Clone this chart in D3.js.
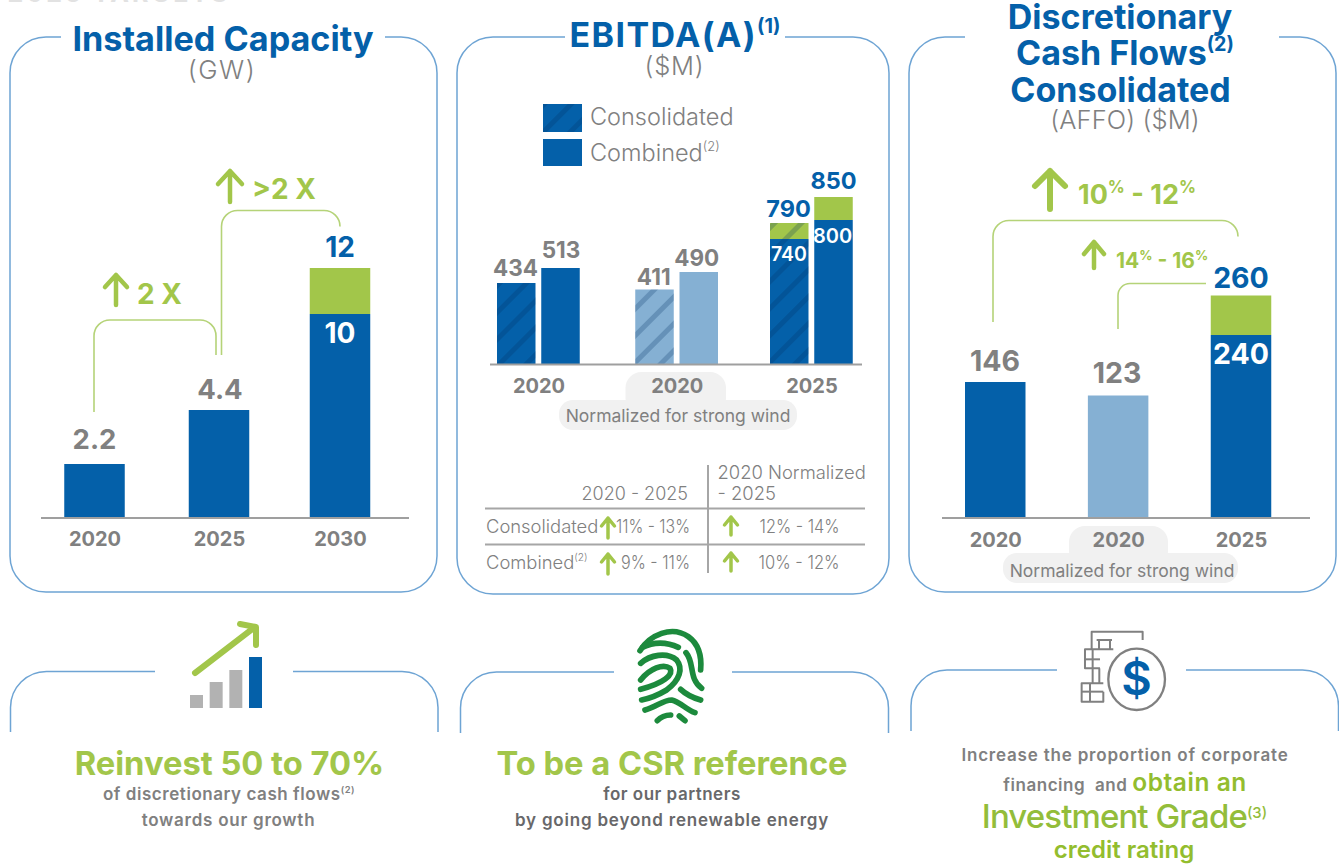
<!DOCTYPE html>
<html><head><meta charset="utf-8">
<script src="https://cdn.jsdelivr.net/npm/d3@7"></script>
<style>html,body{margin:0;padding:0;background:#fff}svg{display:block}text{font-family:Inter,"Noto Sans",sans-serif}</style>
</head><body><div id="c"></div>
<script>
// ---------- data ----------
const capacityYears = ["2020","2025","2030"];
const capacityBase  = [2.2,4.4,10];
const capacityTotal = [2.2,4.4,12];
const ebitdaYears = ["2020","2020 norm.","2025"];
const ebitdaConsolidatedBase  = [434,411,740];
const ebitdaConsolidatedTotal = [434,411,790];
const ebitdaCombinedBase  = [513,490,800];
const ebitdaCombinedTotal = [513,490,850];
const affoYears = ["2020","2020 norm.","2025"];
const affoBase  = [146,123,240];
const affoTotal = [146,123,260];
const yearLabels2 = ["2020","2020","2025"];
const tableRows = ["Consolidated","Combined"];
const tablePeriod = ["11% - 13%","9% - 11%"];
const tableNormalized = ["12% - 14%","10% - 12%"];
const iconBars = [1,2,3,4];

const BLUE="#0460a9",LIGHT="#85b0d3",GREEN="#a2c64a",GREY="#808080",FRAME="#6ea4d4",PILL="#f1f1f1",LINE="#a6a6a6";
const W=1339,H=865;
const svg=d3.select("#c").append("svg").attr("width",W).attr("height",H).attr("viewBox",`0 0 ${W} ${H}`);
const defs=svg.append("defs");
const pat=defs.append("pattern").attr("id","hatch").attr("patternUnits","userSpaceOnUse").attr("width",19).attr("height",19).attr("patternTransform","rotate(45)");
pat.append("rect").attr("x",0).attr("y",0).attr("width",5).attr("height",19).attr("fill","rgba(0,45,95,.24)");
const rough=defs.append("filter").attr("id","rough").attr("x","-10%").attr("y","-10%").attr("width","120%").attr("height","120%");
rough.append("feTurbulence").attr("type","fractalNoise").attr("baseFrequency",0.45).attr("numOctaves",2).attr("seed",3).attr("result","n");
rough.append("feDisplacementMap").attr("in","SourceGraphic").attr("in2","n").attr("scale",3.5);

function txt(parent,x,y,segs,o={}){
  const t=parent.append("text").attr("x",x).attr("y",y).attr("text-anchor",o.anchor||"middle")
    .attr("font-size",o.size||18).attr("font-weight",o.weight||400).attr("fill",o.fill||GREY);
  if(o.ls!=null)t.attr("letter-spacing",o.ls);
  if(o.len)t.attr("textLength",o.len).attr("lengthAdjust","spacingAndGlyphs");
  (Array.isArray(segs)?segs:[segs]).forEach(s=>{
    if(typeof s==="string")s={t:s};
    const sp=t.append("tspan").text(s.t).attr("xml:space","preserve");
    if(s.sup){sp.attr("font-size",(o.size||18)*(s.k||.55)).attr("baseline-shift",(o.size||18)*(s.up||.42));}
    if(s.size)sp.attr("font-size",s.size);
    if(s.fill)sp.attr("fill",s.fill);
    if(s.weight)sp.attr("font-weight",s.weight);
    if(s.ls!=null)sp.attr("letter-spacing",s.ls);
  });
  return t;
}
function frame(g,x0,x1,top,bottom,gapL,gapR,r,closed){
  const p=d3.path();
  p.moveTo(gapR,top);p.lineTo(x1-r,top);p.arcTo(x1,top,x1,top+r,r);
  if(closed){p.lineTo(x1,bottom-r);p.arcTo(x1,bottom,x1-r,bottom,r);p.lineTo(x0+r,bottom);p.arcTo(x0,bottom,x0,bottom-r,r);}
  else{p.lineTo(x1,bottom);p.moveTo(x0,bottom);}
  p.lineTo(x0,top+r);p.arcTo(x0,top,x0+r,top,r);p.lineTo(gapL,top);
  g.append("path").attr("d",p.toString()).attr("fill","none").attr("stroke",FRAME).attr("stroke-width",1.5);
}
function bracket(g,xa,ya,yTop,xb,yb,r){
  const p=d3.path();p.moveTo(xa,ya);p.lineTo(xa,yTop+r);p.arcTo(xa,yTop,xa+r,yTop,r);
  if(yb>yTop+0.5){p.lineTo(xb-r,yTop);p.arcTo(xb,yTop,xb,yTop+r,r);p.lineTo(xb,yb);}else p.lineTo(xb,yTop);
  g.append("path").attr("d",p.toString()).attr("fill","none").attr("stroke","#b5d378").attr("stroke-width",1.6);
}
function arrow(g,x,y0,y1,w,hw,hh){
  const p=d3.path();p.moveTo(x,y1);p.lineTo(x,y0);p.moveTo(x-hw,y0+hh);p.lineTo(x,y0);p.lineTo(x+hw,y0+hh);
  g.append("path").attr("d",p.toString()).attr("fill","none").attr("stroke",GREEN).attr("stroke-width",w).attr("stroke-linecap","round").attr("stroke-linejoin","round");
}
function baseline(g,x0,x1,y){g.append("line").attr("x1",x0).attr("x2",x1).attr("y1",y).attr("y2",y).attr("stroke","#9f9f9f").attr("stroke-width",2);}
function yearAxis(g,scale,y,labels,size){
  const ax=d3.axisBottom(scale).tickSize(0).tickPadding(0).tickFormat((d,i)=>labels[i]);
  const a=g.append("g").attr("transform",`translate(0,${y})`).call(ax);
  a.select(".domain").remove();
  a.selectAll("text").attr("font-family",'Inter,"Noto Sans",sans-serif').attr("font-size",size).attr("font-weight",700).attr("fill",GREY).attr("dy",0).attr("y",0);
}
function pill(g,tabX0,tabX1,tabTop,x0,x1,y0,y1,label,tx,ty){
  g.append("rect").attr("x",tabX0).attr("y",tabTop).attr("width",tabX1-tabX0).attr("height",y0-tabTop+14).attr("rx",16).attr("fill",PILL);
  g.append("rect").attr("x",x0).attr("y",y0).attr("width",x1-x0).attr("height",y1-y0).attr("rx",14).attr("fill",PILL);
  txt(g,tx,ty,label,{size:17.5,fill:GREY,weight:400});
}
function stackBars(g,x,y,width,dx,base,total,fillAt,hatched,yb){
  const idx=base.map((d,i)=>i);
  g.selectAll(null).data(idx).join("rect").attr("x",i=>x(x.domain()[i])+dx-width/2).attr("width",width)
    .attr("y",i=>y(base[i])).attr("height",i=>yb-y(base[i])).attr("fill",fillAt);
  g.selectAll(null).data(idx.filter(i=>total[i]>base[i])).join("rect").attr("x",i=>x(x.domain()[i])+dx-width/2).attr("width",width)
    .attr("y",i=>y(total[i])).attr("height",i=>y(base[i])-y(total[i])).attr("fill",GREEN);
  if(hatched)g.selectAll(null).data(idx).join("rect").attr("x",i=>x(x.domain()[i])+dx-width/2).attr("width",width)
    .attr("y",i=>y(total[i])).attr("height",i=>yb-y(total[i])).attr("fill","url(#hatch)");
}

// top cropped heading
txt(svg,119,2,"2025 TARGETS",{size:25,weight:700,fill:"#e2e2e2",ls:3});

// ---------- panel 1 ----------
const p1=svg.append("g");
frame(p1,10,437,37,592,61,385,36,true);
txt(p1,223,51,"Installed Capacity",{size:34.2,weight:700,fill:BLUE});
txt(p1,222,79,"(GW)",{size:26,weight:300,fill:GREY,ls:1.5});
const y1Base=517.5;
const y1=d3.scaleLinear().domain([0,2.2,4.4,10,12]).range([y1Base,464,410,314,268]);
const x1=d3.scaleOrdinal(capacityYears,[94.5,219,340]);
stackBars(p1,x1,y1,60.5,0,capacityBase,capacityTotal,BLUE,false,y1Base);
baseline(p1,41,409,518);
yearAxis(p1,x1,546,capacityYears,20);
txt(p1,x1("2020"),449,"2.2",{size:27.5,weight:700});
txt(p1,x1("2025")+1,399,"4.4",{size:27.5,weight:700});
txt(p1,x1("2030"),257,"12",{size:28,weight:700,fill:BLUE});
txt(p1,x1("2030"),343,"10",{size:28,weight:700,fill:"#fff"});
bracket(p1,94,412,320,216,355,16);
bracket(p1,221.5,355,210.5,340,226,16);
arrow(p1,116,275,305,4.5,11,12);
txt(p1,137,304,"2 X",{size:28,weight:700,fill:GREEN,anchor:"start"});
arrow(p1,230,171,202,4.5,12,13);
txt(p1,252,199,">2 X",{size:28,weight:700,fill:GREEN,anchor:"start"});

// ---------- panel 2 ----------
const p2=svg.append("g");
frame(p2,457,889,37,594,565,785,36,true);
txt(p2,675,47,[{t:"EBITDA(A)",ls:1.4},{t:"(1)",sup:1,k:.58}],{size:34,weight:700,fill:BLUE});
txt(p2,674.5,75,"($M)",{size:25.5,weight:300,ls:.8});
p2.append("rect").attr("x",543).attr("y",104).attr("width",39).attr("height",28).attr("fill",BLUE);
p2.append("rect").attr("x",543).attr("y",104).attr("width",39).attr("height",28).attr("fill","url(#hatch)");
p2.append("rect").attr("x",543).attr("y",139).attr("width",39).attr("height",27).attr("fill",BLUE);
txt(p2,590,125,"Consolidated",{size:23.5,weight:300,anchor:"start"});
txt(p2,590,161,["Combined",{t:"(2)",sup:1}],{size:23.5,weight:300,anchor:"start"});
const y2Base=364;
const y2=d3.scaleLinear().domain([0,411,434,490,513,740,790,800,850]).range([y2Base,289.5,283,272,268,239,223,220,197]);
const x2=d3.scaleOrdinal(ebitdaYears,[538.5,676.75,811.5]);
const fillByYear=(i)=>i===1?LIGHT:BLUE;
stackBars(p2,x2,y2,38.5,-22.25,ebitdaConsolidatedBase,ebitdaConsolidatedTotal,fillByYear,true,y2Base);
stackBars(p2,x2,y2,38.5,22,ebitdaCombinedBase,ebitdaCombinedTotal,fillByYear,false,y2Base);
baseline(p2,490,862,364.5);
pill(p2,625.5,726,372,559,797,400,430,"Normalized for strong wind",678,422);
yearAxis(p2,x2,393,yearLabels2,20);
[[434,0,276,-23],[411,1,285,-23],[513,0,258,22.5],[490,1,266,20]].forEach(([v,i,yy,dx])=>txt(p2,x2(ebitdaYears[i])+dx,yy,String(v),{size:22.5,weight:700}));
txt(p2,788.5,216.5,"790",{size:23.5,weight:700,fill:BLUE});
txt(p2,833.5,189,"850",{size:23.5,weight:700,fill:BLUE});
txt(p2,789,261,"740",{size:19.5,weight:600,fill:"#fff"});
txt(p2,832.5,243,"800",{size:20,weight:600,fill:"#fff"});
// table
[[485,865,508.5,508.5],[485,865,544.5,544.5],[708,708,465,573]].forEach(([a,b,c,d])=>p2.append("line").attr("x1",a).attr("x2",b).attr("y1",c).attr("y2",d).attr("stroke",LINE).attr("stroke-width",2));
txt(p2,688,500,"2020 - 2025",{size:18,weight:300,anchor:"end"});
txt(p2,717.5,479,"2020 Normalized",{size:18.4,weight:300,anchor:"start"});
txt(p2,717.5,500,"- 2025",{size:18.4,weight:300,anchor:"start"});
txt(p2,486,533,tableRows[0],{size:18.4,weight:300,anchor:"start"});
txt(p2,486,569,[tableRows[1],{t:"(2)",sup:1}],{size:18.4,weight:300,anchor:"start"});
const periodLen=[74,69], normLen=[80,81];
tableRows.forEach((r,i)=>{
  const yy=[533,569][i];
  txt(p2,690,yy,tablePeriod[i],{size:18,weight:300,anchor:"end",len:periodLen[i]});
  txt(p2,839.5,yy,tableNormalized[i],{size:18,weight:300,anchor:"end",len:normLen[i]});
  arrow(p2,608,yy-15,yy+5,3.5,6.5,8);
  arrow(p2,731,yy-16,yy+2,3.5,6.5,8);
});

// ---------- panel 3 ----------
const p3=svg.append("g");
frame(p3,909,1336,37,592,965,1279,36,true);
txt(p3,1120,29,"Discretionary",{size:34,weight:700,fill:BLUE});
txt(p3,1125,65,["Cash Flows",{t:"(2)",sup:1,k:.58}],{size:34,weight:700,fill:BLUE});
txt(p3,1120.5,102,"Consolidated",{size:34,weight:700,fill:BLUE});
txt(p3,1125,129,"(AFFO) ($M)",{size:25.5,weight:300,ls:.1});
const y3Base=517.5;
const y3=d3.scaleLinear().domain([0,123,146,240,260]).range([y3Base,395.5,382,335,295.5]);
const x3=d3.scalePoint().domain(affoYears).range([995.25,1241]);
stackBars(p3,x3,y3,60.5,0,affoBase,affoTotal,i=>i===1?LIGHT:BLUE,false,y3Base);
baseline(p3,942,1310,518);
pill(p3,1069,1168,526,1003,1238,553,583,"Normalized for strong wind",1122,577);
yearAxis(p3,x3,547,yearLabels2,20);
txt(p3,995,371,"146",{size:28.5,weight:700});
txt(p3,1117,383,"123",{size:28.5,weight:700});
txt(p3,1241,288,"260",{size:28.5,weight:700,fill:BLUE});
txt(p3,1241,364,"240",{size:28.5,weight:700,fill:"#fff"});
bracket(p3,993,322,220.5,1238,236,16);
bracket(p3,1118,329,283.5,1206,283.5,12);
arrow(p3,1050,171,209,6,15,15);
txt(p3,1078,204,["10",{t:"%",sup:1,k:.62,up:.4}," - 12",{t:"%",sup:1,k:.62,up:.4}],{size:27,weight:700,fill:GREEN,anchor:"start"});
arrow(p3,1094,242,268,4.5,10,12);
txt(p3,1116,268,["14",{t:"%",sup:1,k:.62,up:.4}," - 16",{t:"%",sup:1,k:.62,up:.4}],{size:21,weight:700,fill:GREEN,anchor:"start"});

// ---------- lower panels ----------
const b=svg.append("g");
frame(b,10.5,438,671.5,732,155,293,36,false);
frame(b,460.5,888.5,672,733,614,732,36,false);
frame(b,911,1338.5,670,731,1057,1186,36,false);

txt(b,229.5,775,"Reinvest 50 to 70%",{size:32.7,weight:700,fill:GREEN});
txt(b,229,800,["of discretionary cash flows",{t:"(2)",sup:1}],{size:17,weight:600,ls:.55});
txt(b,228.5,826,"towards our growth",{size:17,weight:600,ls:.75});
txt(b,672,775,"To be a CSR reference",{size:32.7,weight:700,fill:GREEN});
txt(b,672,800,"for our partners",{size:17,weight:600,fill:"#68686a",ls:.5});
txt(b,672,826,"by going beyond renewable energy",{size:17,weight:600,fill:"#68686a",ls:.8});
txt(b,1125,761,"Increase the proportion of corporate",{size:17,weight:600,ls:.8});
txt(b,1125,791,["financing  and ",{t:"obtain an",size:24.5,weight:600,fill:"#93bd2e"}],{size:17,weight:600,ls:.55});
txt(b,1124.5,828,[{t:"Investment Grade",ls:-.9},{t:"(3)",sup:1,k:.45,up:.3}],{size:33,weight:500,fill:"#93bd3a"});
txt(b,1124,858,"credit rating",{size:24,weight:600,fill:"#93bd2e"});

// icon: growth
const iconX=d3.scaleBand().domain(iconBars).range([190,262]).paddingInner(.34).paddingOuter(0);
const iconH=d3.scaleLinear().domain([0,1,2,3,4]).range([708,695,682,670,657]);
b.selectAll(null).data(iconBars).join("rect").attr("x",d=>iconX(d)).attr("width",iconX.bandwidth()).attr("y",d=>iconH(d)).attr("height",d=>708-iconH(d)).attr("fill",d=>d===4?BLUE:"#b2b2b2");
b.append("path").attr("d","M195,673 L255,627 M240,624 L256,627 L256,645").attr("fill","none").attr("stroke",GREEN).attr("stroke-width",6).attr("stroke-linecap","round").attr("stroke-linejoin","round");

// icon: fingerprint
const fp=b.append("g").attr("transform","translate(450,600) scale(.3333)").attr("filter","url(#rough)").attr("fill","none").attr("stroke","#1f8a3c").attr("stroke-width",17).attr("stroke-linecap","round");
["M570,152 C600,105 665,75 715,110 C750,135 755,175 752,210",
 "M572,190 C600,165 650,155 680,180 C700,205 690,240 650,270 C625,285 600,295 575,300",
 "M572,240 C600,205 640,190 660,205 C672,225 640,250 572,268",
 "M578,142 C610,125 650,125 685,142",
 "M708,158 C735,190 715,235 755,265",
 "M692,268 C710,285 735,295 752,300",
 "M585,330 C620,320 640,300 665,300 C690,305 710,330 735,338",
 "M622,362 C635,348 650,345 662,345",
 "M688,348 L705,362"].forEach(d=>fp.append("path").attr("d",d));

// icon: finance
const fi=b.append("g").attr("transform","translate(900,600) scale(.3333)").attr("fill","none").attr("stroke",GREY).attr("stroke-width",6).attr("stroke-linejoin","round");
["M728,120 V95 H575 V148","M590,120 H636","M597,120 V148","M630,120 V148","M640,148 H555 V205 H600","M555,178 H600","M578,148 V205","M598,205 V250","M578,205 V250","M610,250 H545 V305 H610 V275","M545,275 H610","M570,250 V305"].forEach(d=>fi.append("path").attr("d",d));
fi.append("ellipse").attr("cx",710).attr("cy",238).attr("rx",85).attr("ry",92).attr("stroke-width",7);
txt(b,1136.5,695,"$",{size:47,weight:600,fill:BLUE});
</script></body></html>
